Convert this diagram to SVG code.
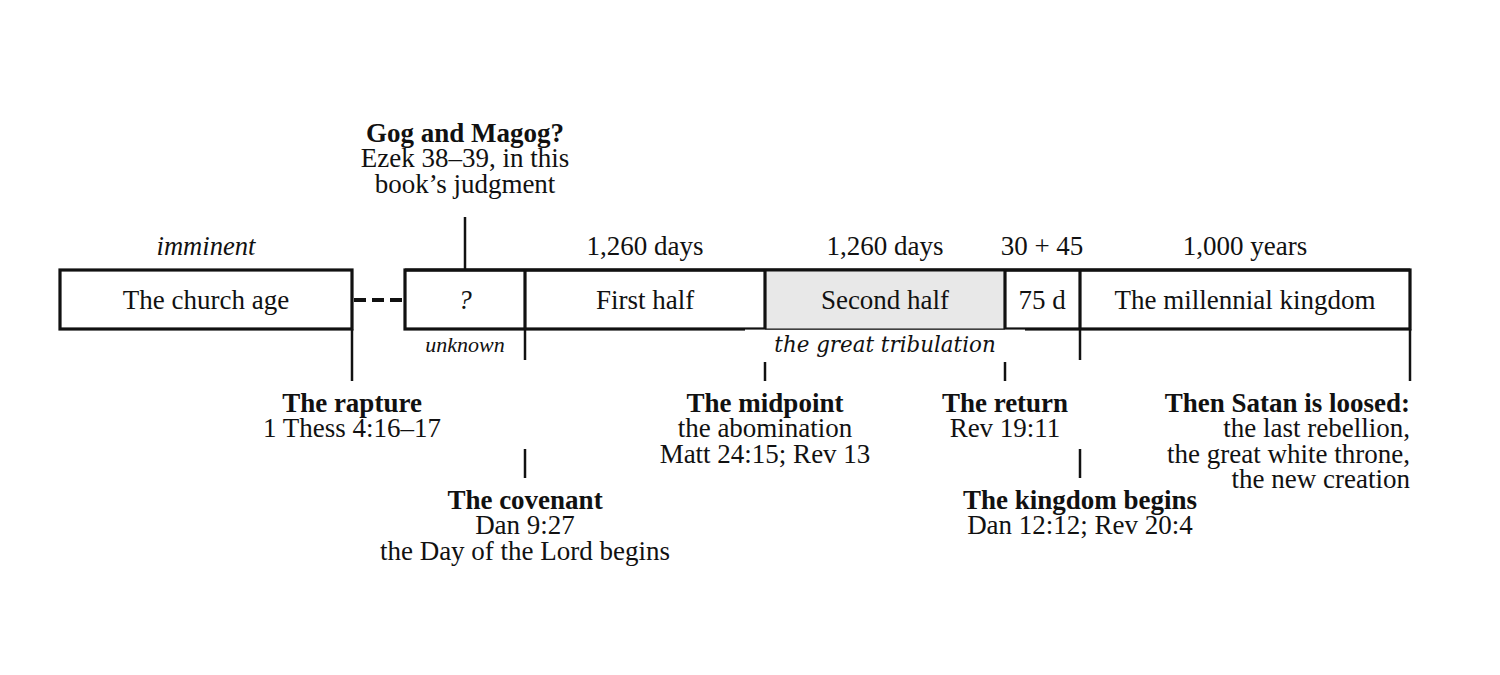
<svg xmlns="http://www.w3.org/2000/svg" width="1500" height="675" viewBox="0 0 1500 675">
<style>
text{font-family:"Liberation Serif","Times New Roman",serif;font-size:27px;fill:#111;text-anchor:middle}
.b{font-weight:bold}
.i{font-style:italic}
.sm{font-size:22px}
.gt{font-family:"DejaVu Serif",serif;font-style:italic;font-size:21.4px}
.r{text-anchor:end}
.box{fill:#fff;stroke:#111;stroke-width:3.2}
.ln{stroke:#111;stroke-width:2.5;fill:none}
.dv{stroke:#111;stroke-width:3.2}
</style>
<rect width="1500" height="675" fill="#fff"/>
<g id="connectors">
<line class="ln" x1="465" y1="217" x2="465" y2="270"/>
<line x1="354" y1="300" x2="403" y2="300" stroke="#111" stroke-width="4" stroke-dasharray="12,6"/>
<line class="ln" x1="352" y1="329" x2="352" y2="381"/>
<line class="ln" x1="525" y1="329" x2="525" y2="360"/>
<line class="ln" x1="1080" y1="329" x2="1080" y2="360"/>
<line class="ln" x1="1410" y1="329" x2="1410" y2="381"/>
<line class="ln" x1="765" y1="362" x2="765" y2="381"/>
<line class="ln" x1="1005" y1="362" x2="1005" y2="381"/>
<line class="ln" x1="525" y1="449" x2="525" y2="478"/>
<line class="ln" x1="1080" y1="449" x2="1080" y2="478"/>
</g>
<g id="church-age">
<rect class="box" x="60" y="270" width="292" height="59"/>
<text x="206" y="309">The church age</text>
<text class="i" x="206" y="255" style="font-size:26.6px">imminent</text>
</g>
<g id="timeline">
<rect class="box" x="405" y="270" width="1005" height="59"/>
<rect x="765" y="270" width="240" height="59" fill="#e8e8e8"/>
<line class="dv" x1="765" y1="270" x2="765" y2="329"/>
<line class="dv" x1="1005" y1="270" x2="1005" y2="329"/>
<line class="dv" x1="525" y1="270" x2="525" y2="329"/>
<line class="dv" x1="1080" y1="270" x2="1080" y2="329"/>
<line class="dv" x1="405" y1="270" x2="1410" y2="270"/>
<rect x="745" y="329.6" width="280" height="24" fill="#fff"/>
<line x1="765" y1="329" x2="1005" y2="329" stroke="#111" stroke-width="1"/>
</g>
<g id="unknown">
<text class="i" x="465" y="309">?</text>
<text class="i sm" x="465" y="352">unknown</text>
</g>
<g id="first-half">
<text x="645" y="309">First half</text>
<text x="645" y="255">1,260 days</text>
</g>
<g id="second-half">
<text x="885" y="309">Second half</text>
<text x="885" y="255">1,260 days</text>
<text class="gt" x="885" y="352">the great tribulation</text>
</g>
<g id="seventy-five">
<text x="1042" y="309">75 d</text>
<text x="1042" y="255">30 + 45</text>
</g>
<g id="millennium">
<text x="1245" y="309">The millennial kingdom</text>
<text x="1245" y="255">1,000 years</text>
</g>
<g id="gog">
<text class="b" x="465" y="142">Gog and Magog?</text>
<text x="465" y="167">Ezek 38–39, in this</text>
<text x="465" y="193">book’s judgment</text>
</g>
<g id="rapture">
<text class="b" x="352" y="412">The rapture</text>
<text x="352" y="437">1 Thess 4:16–17</text>
</g>
<g id="midpoint">
<text class="b" x="765" y="412">The midpoint</text>
<text x="765" y="437">the abomination</text>
<text x="765" y="463">Matt 24:15; Rev 13</text>
</g>
<g id="return">
<text class="b" x="1005" y="412">The return</text>
<text x="1005" y="437">Rev 19:11</text>
</g>
<g id="satan">
<text class="b r" x="1410" y="412">Then Satan is loosed:</text>
<text class="r" x="1410" y="437">the last rebellion,</text>
<text class="r" x="1410" y="463">the great white throne,</text>
<text class="r" x="1410" y="488">the new creation</text>
</g>
<g id="covenant">
<text class="b" x="525" y="509">The covenant</text>
<text x="525" y="534">Dan 9:27</text>
<text x="525" y="560">the Day of the Lord begins</text>
</g>
<g id="kingdom">
<text class="b" x="1080" y="509">The kingdom begins</text>
<text x="1080" y="534">Dan 12:12; Rev 20:4</text>
</g>
</svg>
